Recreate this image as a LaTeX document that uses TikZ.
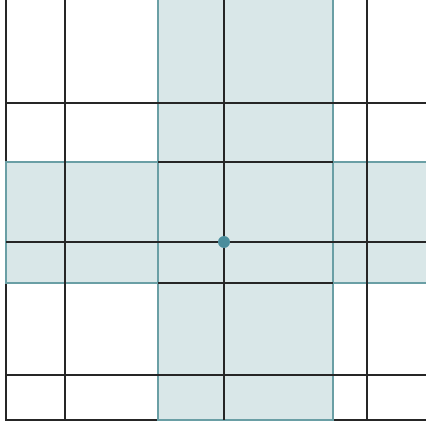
\documentclass[tikz,border=0pt]{standalone}
\usepackage{tikz}
\definecolor{bandfill}{HTML}{D9E7E8}
\definecolor{bandedge}{HTML}{6A9FA5}
\definecolor{dotcol}{HTML}{4A8D9C}
\tikzset{
    band/.style={fill=bandfill, draw=bandedge, line width=1.3pt},
    gridline/.style={draw=black!85, line width=0.9pt},
    dot/.style={circle, fill=dotcol, inner sep=0pt, minimum size=8.5pt}
}

\begin{document}
\begin{tikzpicture}[x=0.025cm, y=-0.025cm]
\useasboundingbox (0,0) rectangle (426,423);
\clip (0,0) rectangle (426,423);
% axes
\draw[gridline] (6,-5) -- (6,420) -- (431,420);
% bands
\draw[band] (6,162) rectangle (440,283);
\draw[band] (158,-10) rectangle (333,420);
% grid
\foreach \x in {65,224,367} \draw[gridline] (\x,-5) -- (\x,420);
\foreach \y in {103,242,375} \draw[gridline] (6,\y) -- (431,\y);
\draw[gridline] (158,162) -- (333,162);
\draw[gridline] (158,283) -- (333,283);
% point
\node[dot] (centre) at (224,242) {};
\end{tikzpicture}
\end{document}
